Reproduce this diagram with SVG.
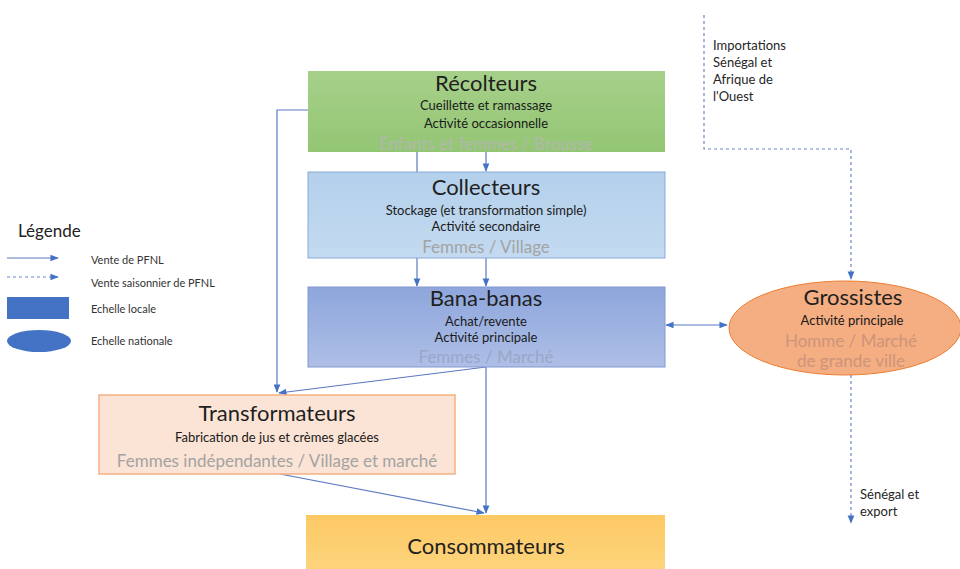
<svg xmlns="http://www.w3.org/2000/svg" width="960" height="569" viewBox="0 0 960 569">
  <defs>
    <linearGradient id="gGreen" x1="0" y1="0" x2="0" y2="1">
      <stop offset="0" stop-color="#a6d08a"/>
      <stop offset="1" stop-color="#93c673"/>
    </linearGradient>
    <linearGradient id="gLightBlue" x1="0" y1="0" x2="0" y2="1">
      <stop offset="0" stop-color="#b4d0ec"/>
      <stop offset="1" stop-color="#c3daf0"/>
    </linearGradient>
    <linearGradient id="gBlue" x1="0" y1="0" x2="0" y2="1">
      <stop offset="0" stop-color="#8ea6dc"/>
      <stop offset="1" stop-color="#aebfe6"/>
    </linearGradient>
    <linearGradient id="gYellow" x1="0" y1="0" x2="0" y2="1">
      <stop offset="0" stop-color="#fdc964"/>
      <stop offset="1" stop-color="#fdd57e"/>
    </linearGradient>
    <marker id="arr" viewBox="0 0 10 10" refX="9" refY="5" markerWidth="7" markerHeight="7" orient="auto-start-reverse">
      <path d="M0,1 L10,5 L0,9 Z" fill="#4472c4"/>
    </marker>
    <style>
      text { font-family: Lato, "Liberation Sans", sans-serif; text-anchor: middle; }
      .title { font-size: 22px; fill: #1f1f1f; }
      .sub { font-size: 13px; fill: #1a1a1a; }
      .grey { font-size: 17px; fill: #a3a3a3; }
      .small { font-size: 13px; fill: #262626; text-anchor: start; }
      .leg { font-size: 11px; fill: #333; text-anchor: start; }
      .link { fill: none; stroke: #5a78c0; stroke-width: 1.2; }
      .dash { fill: none; stroke: #6d86c4; stroke-width: 1.2; stroke-dasharray: 3 3; }
    </style>
  </defs>

  <rect width="960" height="569" fill="#ffffff"/>

  <!-- connectors -->
  <g id="connectors">
    <path class="link" d="M308,110 H277 V392" marker-end="url(#arr)"/>
    <path class="link" d="M417,152 V286" marker-end="url(#arr)"/>
    <path class="link" d="M486,152 V171" marker-end="url(#arr)"/>
    <path class="link" d="M486,258 V286" marker-end="url(#arr)"/>
    <path class="link" d="M486,367 L279,393" marker-end="url(#arr)"/>
    <path class="link" d="M486,367 V513" marker-end="url(#arr)"/>
    <path class="link" d="M280,474 L484,513" marker-end="url(#arr)"/>
    <path class="link" d="M666,325 H727" marker-start="url(#arr)" marker-end="url(#arr)"/>
    <path class="dash" d="M704,15 V149 H851 V279" marker-end="url(#arr)"/>
    <path class="dash" d="M851,375 V523" marker-end="url(#arr)"/>
  </g>

  <g id="recolteurs">
    <rect x="308" y="71" width="357" height="81" fill="url(#gGreen)"/>
    <text class="title" x="486" y="91">Récolteurs</text>
    <text class="sub" x="486" y="110">Cueillette et ramassage</text>
    <text class="sub" x="486" y="128">Activité occasionnelle</text>
    <text class="grey" x="486" y="150" style="fill:#b2b8ae">Enfants et femmes / Brousse</text>
  </g>

  <g id="collecteurs">
    <rect x="308" y="172" width="357" height="86" fill="url(#gLightBlue)" stroke="#8aa9d6" stroke-width="1"/>
    <text class="title" x="486" y="195">Collecteurs</text>
    <text class="sub" x="486" y="215">Stockage (et transformation simple)</text>
    <text class="sub" x="486" y="231">Activité secondaire</text>
    <text class="grey" x="486" y="253">Femmes / Village</text>
  </g>

  <g id="bana-banas">
    <rect x="308" y="287" width="357" height="80" fill="url(#gBlue)" stroke="#8298cf" stroke-width="1"/>
    <text class="title" x="486" y="306">Bana-banas</text>
    <text class="sub" x="486" y="326">Achat/revente</text>
    <text class="sub" x="486" y="342">Activité principale</text>
    <text class="grey" x="486" y="363" style="fill:#9aa6c8">Femmes / Marché</text>
  </g>

  <g id="transformateurs">
    <rect x="99" y="395" width="356" height="79" fill="#fbe4d5" stroke="#f4b183" stroke-width="1.5"/>
    <text class="title" x="277" y="421">Transformateurs</text>
    <text class="sub" x="277" y="442">Fabrication de jus et crèmes glacées</text>
    <text class="grey" x="277" y="467">Femmes indépendantes / Village et marché</text>
  </g>

  <g id="consommateurs">
    <rect x="306" y="515" width="359" height="60" fill="url(#gYellow)"/>
    <text class="title" x="486" y="554">Consommateurs</text>
  </g>

  <g id="grossistes">
    <ellipse cx="845" cy="328" rx="116" ry="47" fill="#f5ad82" stroke="#ed7d31" stroke-width="1"/>
    <text class="title" x="853" y="305">Grossistes</text>
    <text class="sub" x="852" y="325">Activité principale</text>
    <text class="grey" x="851" y="347" style="fill:#cd957a">Homme / Marché</text>
    <text class="grey" x="851" y="367" style="fill:#cd957a">de grande ville</text>
  </g>

  <g id="note-importations">
    <text class="small" x="713" y="50">Importations</text>
    <text class="small" x="713" y="67">Sénégal et</text>
    <text class="small" x="713" y="84">Afrique de</text>
    <text class="small" x="713" y="101">l'Ouest</text>
  </g>

  <g id="note-export">
    <text class="small" x="860" y="499">Sénégal et</text>
    <text class="small" x="860" y="516">export</text>
  </g>

  <g id="legende">
    <text x="18" y="237" style="font-size:17px; text-anchor:start; fill:#222">Légende</text>
    <path class="link" d="M7,258 H58" marker-end="url(#arr)"/>
    <text class="leg" x="91" y="264">Vente de PFNL</text>
    <path class="dash" d="M7,277 H58" marker-end="url(#arr)"/>
    <text class="leg" x="91" y="287">Vente saisonnier de PFNL</text>
    <rect x="7" y="297" width="62" height="22" fill="#4472c4"/>
    <text class="leg" x="91" y="313">Echelle locale</text>
    <ellipse cx="39" cy="341" rx="32" ry="11" fill="#4472c4"/>
    <text class="leg" x="91" y="345">Echelle nationale</text>
  </g>
</svg>
